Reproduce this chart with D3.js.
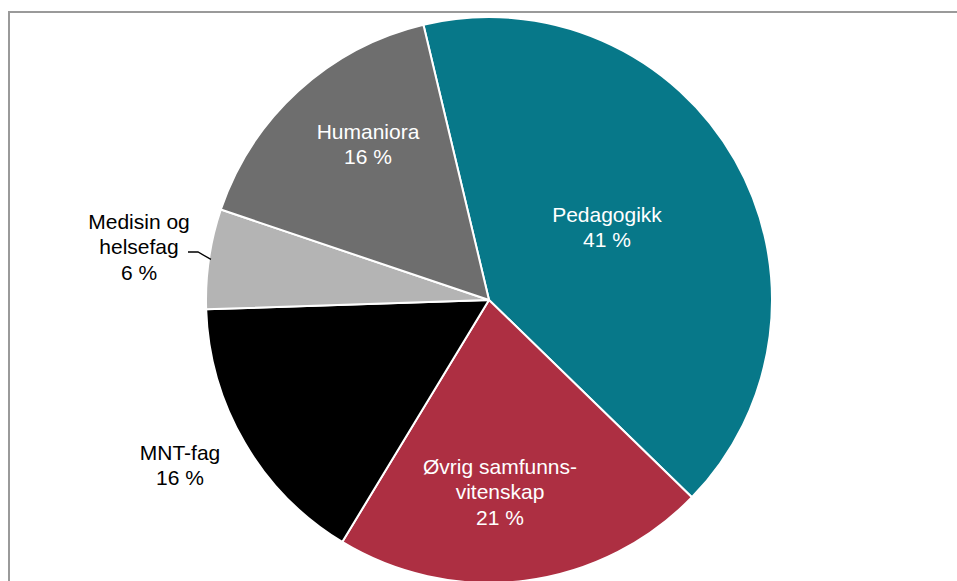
<!DOCTYPE html>
<html>
<head>
<meta charset="utf-8">
<script src="https://cdn.jsdelivr.net/npm/d3@7"></script>
<style>
  html, body { margin: 0; padding: 0; background: #fff; }
  svg { display: block; font-family: "Liberation Sans", Arial, sans-serif; }
</style>
</head>
<body>
<svg id="chart" width="957" height="581"></svg>
<script>
// Data
const categories = ["Pedagogikk", "Øvrig samfunnsvitenskap", "MNT-fag", "Medisin og helsefag", "Humaniora"];
const values = [41.0, 21.4, 15.8, 5.7, 16.1];
const labelLines = [
  ["Pedagogikk"],
  ["Øvrig samfunns-", "vitenskap"],
  ["MNT-fag"],
  ["Medisin og", "helsefag"],
  ["Humaniora"]
];
const colors = ["#077889", "#AD2F42", "#000000", "#B4B4B4", "#6E6E6E"];

const svg = d3.select("#chart");

// frame
svg.append("path")
  .attr("d", "M9,582 L9,12 L958,12")
  .attr("fill", "none")
  .attr("stroke", "#9a9a9a")
  .attr("stroke-width", 2);

const cx = 489, cy = 300, R = 283;
const startAngle = -13.4 * Math.PI / 180;

const pie = d3.pie().sort(null).value(d => d)
  .startAngle(startAngle).endAngle(startAngle + 2 * Math.PI);
const arcs = pie(values);
const arc = d3.arc().innerRadius(0).outerRadius(R);

const g = svg.append("g").attr("transform", `translate(${cx},${cy})`);

g.selectAll("path.slice").data(arcs).enter().append("path")
  .attr("class", "slice")
  .attr("d", arc)
  .attr("fill", (d, i) => colors[i])
  .attr("stroke", "#fff")
  .attr("stroke-width", 2)
  .attr("stroke-linejoin", "round");

// label centres relative to pie centre
const labelOffset = [
  [118, -73],
  [11, 192],
  [-309, 165],
  [-350, -53],
  [-121, -156]
];
const labelFill = ["#fff", "#fff", "#000", "#000", "#fff"];
const lineH = 25.5;

arcs.forEach((d, i) => {
  const lines = labelLines[i].concat([Math.round(values[i]) + " %"]);
  const [x, y] = labelOffset[i];
  const t = g.append("text")
    .attr("text-anchor", "middle")
    .attr("font-size", "21px")
    .attr("fill", labelFill[i]);
  const y0 = y - (lines.length - 1) * lineH / 2;
  lines.forEach((ln, k) => {
    t.append("tspan")
      .attr("x", x)
      .attr("y", y0 + k * lineH)
      .attr("dy", "0.35em")
      .text(ln);
  });
});

// leader line for Medisin og helsefag
{
  const a = 278.3 * Math.PI / 180;
  const px = Math.sin(a) * (R - 2), py = -Math.cos(a) * (R - 2);
  g.append("path")
    .attr("d", `M${-301},${-48} L${-291},${-48} L${px},${py}`)
    .attr("fill", "none")
    .attr("stroke", "#000")
    .attr("stroke-width", 1.3);
}
</script>
</body>
</html>
